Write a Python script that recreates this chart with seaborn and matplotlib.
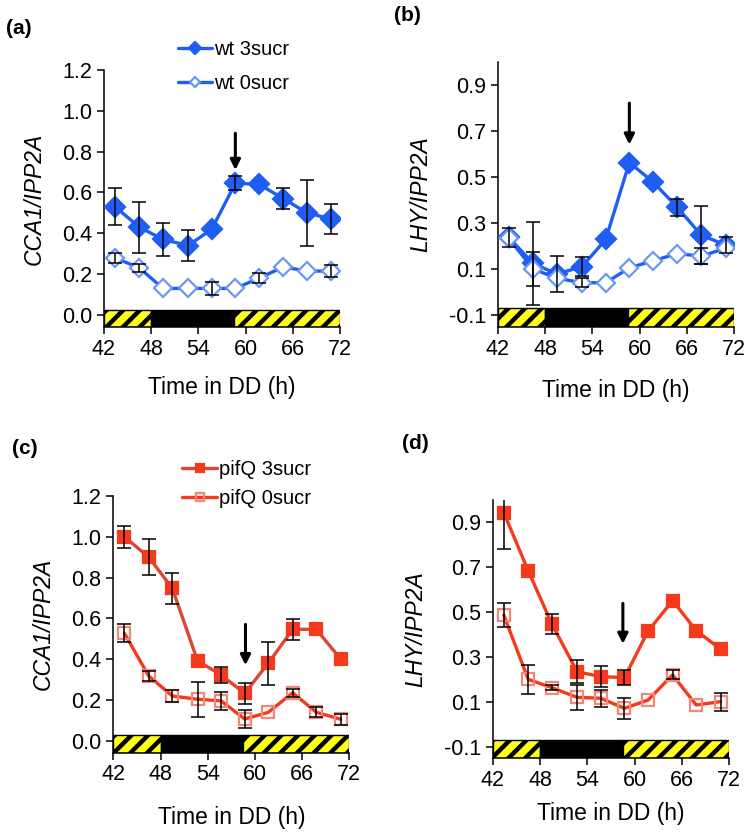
import matplotlib
matplotlib.use('Agg')
import matplotlib.pyplot as plt
import numpy as np
import pandas as pd
import seaborn as sns

# sampling times (h in DD), shared by all panels
hours = [43.4, 46.5, 49.5, 52.7, 55.7, 58.7, 61.7, 64.8, 67.8, 70.9]

# (a) CCA1/IPP2A, wild type
wt_3sucr_cca1 = [0.53, 0.43, 0.37, 0.34, 0.42, 0.645, 0.64, 0.57, 0.50, 0.47]
wt_3sucr_cca1_err = [0.09, 0.125, 0.08, 0.077, 0.0, 0.035, 0.0, 0.05, 0.16, 0.075]
wt_0sucr_cca1 = [0.28, 0.23, 0.13, 0.13, 0.13, 0.13, 0.18, 0.235, 0.215, 0.215]
wt_0sucr_cca1_err = [0.025, 0.02, 0.0, 0.0, 0.03, 0.0, 0.025, 0.0, 0.0, 0.03]

# (b) LHY/IPP2A, wild type
wt_3sucr_lhy = [0.237, 0.124, 0.078, 0.11, 0.228, 0.562, 0.478, 0.367, 0.247, 0.204]
wt_3sucr_lhy_err = [0.04, 0.18, 0.08, 0.04, 0.0, 0.0, 0.0, 0.037, 0.125, 0.035]
wt_0sucr_lhy = [0.233, 0.10, 0.06, 0.04, 0.04, 0.105, 0.135, 0.167, 0.155, 0.19]
wt_0sucr_lhy_err = [0.0, 0.075, 0.0, 0.02, 0.0, 0.0, 0.0, 0.0, 0.035, 0.0]

# (c) CCA1/IPP2A, pifQ
pifq_3sucr_cca1 = [1.0, 0.90, 0.747, 0.392, 0.322, 0.232, 0.38, 0.546, 0.546, 0.40]
pifq_3sucr_cca1_err = [0.055, 0.087, 0.075, 0.0, 0.04, 0.05, 0.105, 0.05, 0.0, 0.0]
pifq_0sucr_cca1 = [0.527, 0.317, 0.219, 0.203, 0.195, 0.106, 0.139, 0.235, 0.139, 0.105]
pifq_0sucr_cca1_err = [0.045, 0.025, 0.03, 0.087, 0.043, 0.045, 0.0, 0.02, 0.025, 0.027]

# (d) LHY/IPP2A, pifQ
pifq_3sucr_lhy = [0.944, 0.685, 0.448, 0.236, 0.214, 0.21, 0.417, 0.552, 0.419, 0.336]
pifq_3sucr_lhy_err = [0.16, 0.0, 0.045, 0.05, 0.047, 0.035, 0.0, 0.0, 0.0, 0.0]
pifq_0sucr_lhy = [0.488, 0.202, 0.165, 0.122, 0.118, 0.073, 0.11, 0.222, 0.088, 0.103]
pifq_0sucr_lhy_err = [0.053, 0.065, 0.012, 0.055, 0.037, 0.047, 0.0, 0.02, 0.0, 0.04]

# subjective day / night bar along the bottom
phase_start = [42, 48, 58.5]
phase_end = [48, 58.5, 72]
phase_is_night = [False, True, False]

# arrow at the time point of interest (x, y_from, y_to)
arrow_a = (58.7, 0.89, 0.71)
arrow_b = (58.7, 0.82, 0.64)
arrow_c = (58.8, 0.57, 0.37)
arrow_d = (58.5, 0.54, 0.36)

BLUE = '#1f5ef2'
BLUE_LIGHT = '#6c97f3'
RED = '#f53a1c'
RED_DARK = '#dc4634'
RED_LIGHT = '#f2877a'

sns.set_style('ticks')
plt.rcParams['font.family'] = ['Liberation Sans', 'DejaVu Sans']
plt.rcParams['hatch.linewidth'] = 3.2
plt.rcParams['hatch.color'] = 'black'
for k in ['text.color', 'axes.labelcolor', 'xtick.color', 'ytick.color']:
  plt.rcParams[k] = 'black'


def add_series(ax, vals, err, label, color, marker, ms, mfc, mec, lcolor=None):
  df = pd.DataFrame({'h': hours, 'v': vals})
  sns.lineplot(data=df, x='h', y='v', ax=ax, color=lcolor or color, lw=2.4,
               marker=marker, ms=ms, mfc=mfc, mec=mec, mew=1.6,
               label=label, zorder=3)
  err = np.asarray(err)
  keep = err > 0
  ax.errorbar(np.asarray(hours)[keep], np.asarray(vals)[keep], yerr=err[keep],
              fmt='none', ecolor='black', elinewidth=1.1, capsize=5,
              capthick=1.1, zorder=5)


def light_bar(ax, y0, y1):
  for s, e, night in zip(phase_start, phase_end, phase_is_night):
    if night:
      ax.bar(s, y1 - y0, width=e - s, bottom=y0, align='edge', color='black',
             edgecolor='black', lw=1, zorder=2)
    else:
      ax.bar(s, y1 - y0, width=e - s, bottom=y0, align='edge',
             facecolor='#ffff1a', edgecolor='black', hatch='//', lw=1, zorder=2)


def style_axes(ax, ylim, yticks, ylabel, bar, xlabelpad=12):
  ax.set_xlim(42, 72)
  ax.set_ylim(*ylim)
  ax.set_xticks(range(42, 73, 6))
  ax.set_yticks(yticks)
  ax.set_yticklabels(['{:.1f}'.format(t) for t in yticks])
  ax.tick_params(axis='both', labelsize=15.5, length=5, width=1.1, color='black')
  ax.set_xlabel('Time in DD (h)', fontsize=16.5, labelpad=xlabelpad)
  ax.set_ylabel(ylabel, fontsize=16.5, style='italic', labelpad=12)
  for sp in ['top', 'right']:
    ax.spines[sp].set_visible(False)
  for sp in ['left', 'bottom']:
    ax.spines[sp].set_linewidth(1.1)
    ax.spines[sp].set_color('black')
  light_bar(ax, *bar)
  leg = ax.get_legend()
  if leg is not None:
    leg.remove()


def arrow(ax, a):
  x, y0, y1 = a
  ax.annotate('', xy=(x, y1), xytext=(x, y0),
              arrowprops=dict(arrowstyle='-|>,head_width=0.3,head_length=0.6',
                              color='black', lw=2.2, shrinkA=0, shrinkB=0),
              zorder=6)


fig = plt.figure(figsize=(7.54, 8.35), dpi=100)
ax_a = fig.add_axes([0.1379, 0.6084, 0.313, 0.3078])
ax_b = fig.add_axes([0.660, 0.6087, 0.3138, 0.3174])
ax_c = fig.add_axes([0.1503, 0.0986, 0.313, 0.3074])
ax_d = fig.add_axes([0.6535, 0.0919, 0.3138, 0.3093])

cca_ticks = [0.0, 0.2, 0.4, 0.6, 0.8, 1.0, 1.2]
lhy_ticks = [-0.1, 0.1, 0.3, 0.5, 0.7, 0.9]

# (a)
add_series(ax_a, wt_3sucr_cca1, wt_3sucr_cca1_err, 'wt 3sucr', BLUE, 'D', 10, BLUE, BLUE)
add_series(ax_a, wt_0sucr_cca1, wt_0sucr_cca1_err, 'wt 0sucr', BLUE, 'D', 9, 'white', BLUE_LIGHT)
handles_wt, labels_wt = ax_a.get_legend_handles_labels()
style_axes(ax_a, (-0.059, 1.2), cca_ticks, 'CCA1/IPP2A', (-0.059, 0.025))
arrow(ax_a, arrow_a)

# (b)
add_series(ax_b, wt_3sucr_lhy, wt_3sucr_lhy_err, 'wt 3sucr', BLUE, 'D', 10, BLUE, BLUE)
add_series(ax_b, wt_0sucr_lhy, wt_0sucr_lhy_err, 'wt 0sucr', BLUE, 'D', 9, 'white', BLUE_LIGHT)
style_axes(ax_b, (-0.151, 1.0), lhy_ticks, 'LHY/IPP2A', (-0.151, -0.071), xlabelpad=14)
arrow(ax_b, arrow_b)

# (c)
add_series(ax_c, pifq_3sucr_cca1, pifq_3sucr_cca1_err, 'pifQ 3sucr', RED, 's', 8.5, RED, RED, RED_DARK)
add_series(ax_c, pifq_0sucr_cca1, pifq_0sucr_cca1_err, 'pifQ 0sucr', RED, 's', 8.5, 'none', RED_LIGHT)
handles_pq, labels_pq = ax_c.get_legend_handles_labels()
style_axes(ax_c, (-0.059, 1.2), cca_ticks, 'CCA1/IPP2A', (-0.059, 0.03), xlabelpad=15)
arrow(ax_c, arrow_c)

# (d)
add_series(ax_d, pifq_3sucr_lhy, pifq_3sucr_lhy_err, 'pifQ 3sucr', RED, 's', 8.5, RED, RED)
add_series(ax_d, pifq_0sucr_lhy, pifq_0sucr_lhy_err, 'pifQ 0sucr', RED, 's', 8.5, 'none', RED_LIGHT)
style_axes(ax_d, (-0.149, 1.0), lhy_ticks, 'LHY/IPP2A', (-0.149, -0.068), xlabelpad=8)
arrow(ax_d, arrow_d)

fig.legend(handles_wt, labels_wt, loc='center left', bbox_to_anchor=(0.236, 0.92),
           frameon=False, fontsize=14.5, handlelength=1.7, handletextpad=0.1,
           labelspacing=0.75, borderpad=0, borderaxespad=0, markerscale=0.6)
fig.legend(handles_pq, labels_pq, loc='center left', bbox_to_anchor=(0.242, 0.42),
           frameon=False, fontsize=14.5, handlelength=1.7, handletextpad=0.1,
           labelspacing=0.5, borderpad=0, borderaxespad=0, markerscale=0.6)

for lab, x, y in [('(a)', 0.008, 0.966), ('(b)', 0.522, 0.982),
                  ('(c)', 0.016, 0.463), ('(d)', 0.533, 0.469)]:
  fig.text(x, y, lab, fontsize=15, fontweight='bold', va='center')

fig.savefig('out.png', dpi=100)
